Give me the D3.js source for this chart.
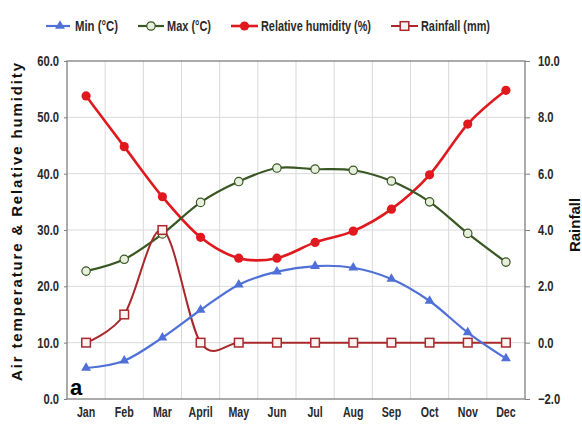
<!DOCTYPE html>
<html>
<head>
<meta charset="utf-8">
<script src="https://cdn.jsdelivr.net/npm/d3@7"></script>
<style>
  html, body { margin: 0; padding: 0; background: #fff; }
  svg { display: block; }
  text { font-family: "Liberation Sans", Arial, sans-serif; }
</style>
</head>
<body>
<svg id="chart" width="582" height="426"></svg>
<script>
// Monthly climate data
const months = ["Jan", "Feb", "Mar", "April", "May", "Jun", "Jul", "Aug", "Sep", "Oct", "Nov", "Dec"];
const minTemp = [5.5, 6.8, 10.9, 15.8, 20.3, 22.6, 23.6, 23.3, 21.3, 17.4, 11.8, 7.2];
const maxTemp = [22.7, 24.8, 29.3, 34.9, 38.6, 41.0, 40.8, 40.6, 38.7, 35.0, 29.4, 24.3];
const humidity = [53.8, 44.8, 35.9, 28.7, 25.0, 25.0, 27.8, 29.8, 33.7, 39.8, 48.8, 54.8];
const rainfall = [0.0, 1.0, 4.0, 0.0, 0.0, 0.0, 0.0, 0.0, 0.0, 0.0, 0.0, 0.0];

const leftTicks = [0, 10, 20, 30, 40, 50, 60];
const rightTicks = [-2, 0, 2, 4, 6, 8, 10];

const svg = d3.select("#chart");
const m = { left: 67, right: 525, top: 61, bottom: 399 };

const x = d3.scaleBand().domain(months).range([m.left, m.right]).paddingInner(0).paddingOuter(0);
const cx = d => x(d) + x.bandwidth() / 2;
const yL = d3.scaleLinear().domain([0, 60]).range([m.bottom, m.top]);
const yR = d3.scaleLinear().domain([-2, 10]).range([m.bottom, m.top]);

// squeeze a text selection horizontally to get a condensed look
function condense(sel, k) {
  sel.each(function () {
    const w = this.getComputedTextLength();
    d3.select(this).attr("textLength", w * k).attr("lengthAdjust", "spacingAndGlyphs");
  });
}

// gridlines
const grid = svg.append("g").attr("stroke", "#d9d9d9").attr("stroke-width", 1);
leftTicks.slice(1, -1).forEach(t => {
  grid.append("line").attr("x1", m.left).attr("x2", m.right).attr("y1", yL(t)).attr("y2", yL(t));
});
months.slice(1).forEach(mo => {
  grid.append("line").attr("x1", x(mo)).attr("x2", x(mo)).attr("y1", m.top).attr("y2", m.bottom);
});

// plot frame
svg.append("rect")
  .attr("x", m.left).attr("y", m.top)
  .attr("width", m.right - m.left).attr("height", m.bottom - m.top)
  .attr("fill", "none").attr("stroke", "#7f7f7f").attr("stroke-width", 1.3);

// left axis
const axL = svg.append("g").attr("transform", `translate(${m.left},0)`)
  .call(d3.axisLeft(yL).tickValues(leftTicks).tickFormat(d3.format(".1f")).tickSize(3).tickPadding(5));
axL.select(".domain").remove();
axL.selectAll(".tick line").attr("stroke", "#7f7f7f");
axL.selectAll(".tick text").attr("font-size", 14).attr("fill", "#2a2a2a").attr("font-weight", "bold")
  .style("font-family", '"Liberation Sans", Arial, sans-serif');
condense(axL.selectAll(".tick text"), 0.8);

// right axis
const axR = svg.append("g").attr("transform", `translate(${m.right},0)`)
  .call(d3.axisRight(yR).tickValues(rightTicks).tickFormat(d3.format(".1f")).tickSize(5).tickPadding(8));
axR.select(".domain").remove();
axR.selectAll(".tick line").attr("stroke", "#7f7f7f");
axR.selectAll(".tick text").attr("font-size", 14).attr("fill", "#2a2a2a").attr("font-weight", "bold")
  .style("font-family", '"Liberation Sans", Arial, sans-serif');
condense(axR.selectAll(".tick text"), 0.8);

// bottom axis
const axB = svg.append("g").attr("transform", `translate(0,${m.bottom})`)
  .call(d3.axisBottom(x).tickSize(0).tickPadding(8));
axB.select(".domain").remove();
axB.selectAll(".tick text").attr("font-size", 14).attr("fill", "#2a2a2a").attr("font-weight", "bold")
  .style("font-family", '"Liberation Sans", Arial, sans-serif');
condense(axB.selectAll(".tick text"), 0.76);

// axis titles
svg.append("text")
  .attr("transform", `translate(22,222) rotate(-90)`)
  .attr("text-anchor", "middle")
  .attr("font-weight", "bold").attr("font-size", 15).attr("fill", "#111")
  .attr("textLength", 318).attr("lengthAdjust", "spacing")
  .text("Air temperature & Relative humidity");

svg.append("text")
  .attr("transform", `translate(580,225) rotate(-90)`)
  .attr("text-anchor", "middle")
  .attr("font-weight", "bold").attr("font-size", 15).attr("fill", "#111")
  .text("Rainfall");

// panel letter
svg.append("text")
  .attr("x", 70).attr("y", 395)
  .attr("font-weight", "bold").attr("font-size", 22).attr("fill", "#000")
  .text("a");

const curve = d3.curveCardinal.tension(0);

const series = [
  { name: "Min (°C)", vals: minTemp, y: yL, color: "#4f70d6", width: 2.2, marker: "tri" },
  { name: "Max (°C)", vals: maxTemp, y: yL, color: "#385723", width: 2.2, marker: "ocircle" },
  { name: "Relative humidity (%)", vals: humidity, y: yL, color: "#e0191f", width: 2.6, marker: "dot" },
  { name: "Rainfall (mm)", vals: rainfall, y: yR, color: "#a8282c", width: 2.0, marker: "square" }
];

function drawMarker(g, type, color, px, py) {
  if (type === "tri") {
    g.append("path").attr("d", d3.symbol(d3.symbolTriangle, 42)())
      .attr("transform", `translate(${px},${py})`).attr("fill", color);
  } else if (type === "ocircle") {
    g.append("circle").attr("cx", px).attr("cy", py).attr("r", 4.2)
      .attr("fill", "#e8efdc").attr("stroke", color).attr("stroke-width", 1.2);
  } else if (type === "dot") {
    g.append("circle").attr("cx", px).attr("cy", py).attr("r", 4.6).attr("fill", color);
  } else if (type === "square") {
    g.append("rect").attr("x", px - 4.3).attr("y", py - 4.3).attr("width", 8.6).attr("height", 8.6)
      .attr("fill", "#fdf3f3").attr("stroke", color).attr("stroke-width", 1.5);
  }
}

// draw order: humidity, max, rainfall, min (min on top)
[series[2], series[1], series[3], series[0]].forEach(s => {
  const g = svg.append("g");
  const line = d3.line().x((d, i) => cx(months[i])).y(d => s.y(d)).curve(curve);
  g.append("path").datum(s.vals).attr("d", line)
    .attr("fill", "none").attr("stroke", s.color).attr("stroke-width", s.width);
  s.vals.forEach((v, i) => drawMarker(g, s.marker, s.color, cx(months[i]), s.y(v)));
});

// legend
const legendPos = [
  { x0: 46, x1: 70, tx: 75, w: 43 },
  { x0: 138, x1: 164, tx: 167, w: 44 },
  { x0: 231, x1: 258, tx: 261, w: 110 },
  { x0: 391, x1: 418, tx: 421, w: 69 }
];
const ly = 26;
series.forEach((s, i) => {
  const p = legendPos[i];
  const g = svg.append("g");
  g.append("line").attr("x1", p.x0).attr("x2", p.x1).attr("y1", ly).attr("y2", ly)
    .attr("stroke", s.color).attr("stroke-width", s.width);
  drawMarker(g, s.marker, s.color, (p.x0 + p.x1) / 2 + (i === 0 ? 2 : 0), ly);
  g.append("text").attr("x", p.tx).attr("y", ly + 5)
    .attr("font-size", 14).attr("font-weight", "bold").attr("fill", "#2a2a2a")
    .attr("textLength", p.w).attr("lengthAdjust", "spacingAndGlyphs")
    .text(s.name);
});
</script>
</body>
</html>
